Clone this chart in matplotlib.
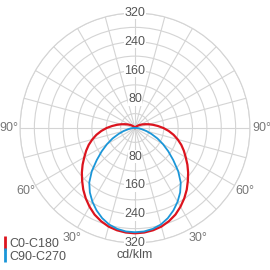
import numpy as np
import matplotlib
matplotlib.use("Agg")
import matplotlib.pyplot as plt
from matplotlib.lines import Line2D

# gamma angle (deg from nadir) and intensity in cd/klm
gamma = [0, 5, 10, 15, 20, 25, 30, 35, 40, 45, 50, 55, 60, 65, 70, 75, 80, 85, 90,
         95, 100, 105, 110, 115, 120, 125, 130, 135, 140, 145, 150, 155, 160, 165, 170, 175, 180]
c0_c180 = [293, 292, 289, 284, 276, 266, 253, 239, 224, 208, 193, 178, 163, 150, 137, 123, 109, 94, 79,
           64, 51, 40, 31, 24, 18, 14, 10, 7, 5, 4, 3, 2, 1, 1, 0, 0, 0]
c90_c270 = [290, 289, 285, 278, 267, 253, 237, 219, 198, 170, 139, 113, 90, 69, 49, 33, 20, 11, 5,
            2, 1, 0, 0, 0, 0, 0, 0, 0, 0, 0, 0, 0, 0, 0, 0, 0, 0]
series_names = ["C0-C180", "C90-C270"]
colors = ["#dc141e", "#1a96d8"]
ring_vals = [40, 80, 120, 160, 200, 240, 280, 320]
ring_labels = [80, 160, 240, 320]
angle_labels = [30, 60, 90]

plt.rcParams['font.family'] = ['Liberation Sans', 'DejaVu Sans']

fig = plt.figure(figsize=(2.7, 2.7), dpi=100)
ax = fig.add_axes([20/270, 27/270, 230/270, 230/270], projection="polar")
ax.set_theta_zero_location("S")
ax.set_ylim(0, 320)
ax.set_thetagrids(np.arange(0, 360, 15), labels=[])
ax.set_rgrids(ring_vals, labels=[])
ax.grid(color="#d4d4d4", linewidth=0.8)
ax.spines["polar"].set_color("#d4d4d4")
ax.spines["polar"].set_linewidth(0.8)

g = np.radians(gamma)
for vals, col, lw in zip([c0_c180, c90_c270], colors, [1.6, 1.3]):
    th = np.concatenate([-g[::-1], g[1:]])
    r = np.concatenate([np.array(vals)[::-1], np.array(vals)[1:]])
    ax.plot(th, r, color=col, linewidth=lw, zorder=3)

for v in ring_labels:
    for t in [0, np.pi]:
        ax.text(t, v, str(v), ha="center", va="center", fontsize=9, color="#555555",
                bbox=dict(facecolor="white", edgecolor="none", pad=0.3), zorder=4)

for a in angle_labels:
    for s in [1, -1]:
        ax.text(np.radians(s * a), 352, "%d°" % a, ha="center", va="center",
                fontsize=9, color="#777777", clip_on=False)

handles = [Line2D([], [], color=c, marker="|", linestyle="None", markersize=10,
                  markeredgewidth=2) for c in colors]
fig.legend(handles, series_names, loc="lower left", bbox_to_anchor=(-0.02, 0.0),
           frameon=False, fontsize=9, labelcolor="#555555", handlelength=0.4,
           handletextpad=0.2, labelspacing=0.05, borderaxespad=0.2)

fig.text(0.5, 0.055, "cd/klm", ha="center", va="center", fontsize=9, color="#555555")

fig.savefig("out.png", dpi=100, facecolor="white")
